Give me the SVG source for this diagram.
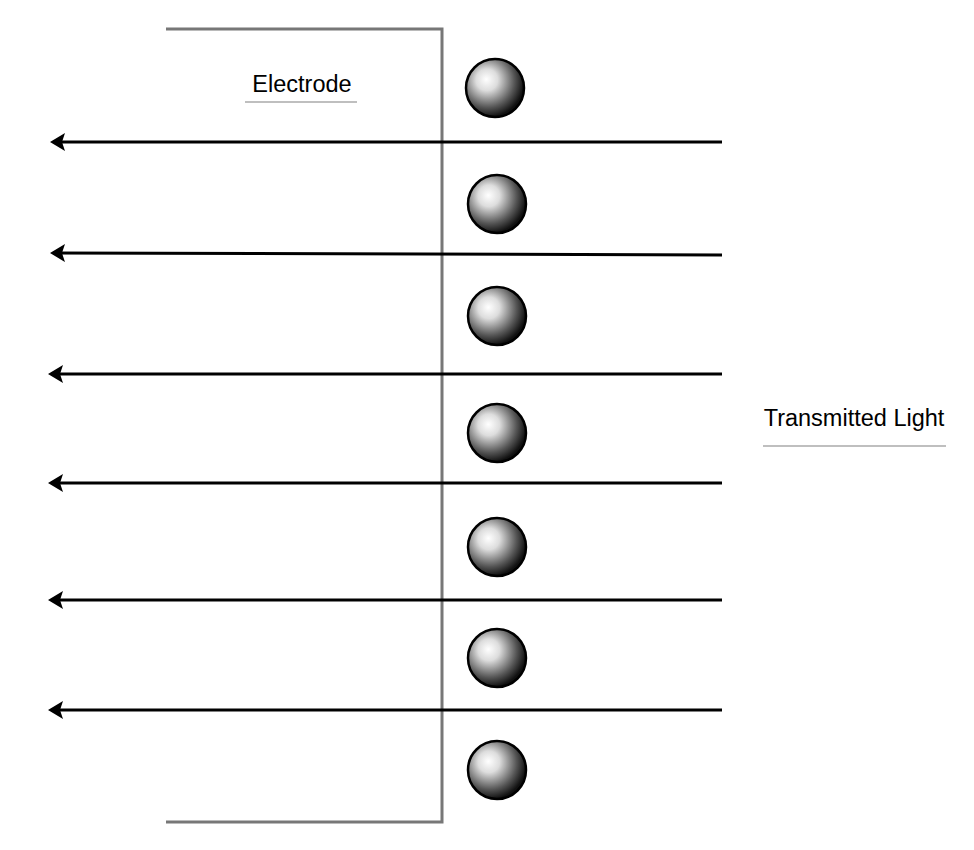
<svg xmlns="http://www.w3.org/2000/svg" width="974" height="850" viewBox="0 0 974 850">
<style>
.lbl{font-family:"Liberation Sans",Arial,sans-serif;font-size:23.5px;fill:#000}
.ul{stroke:#aaa;stroke-width:1.5}
.ray{stroke:#000;stroke-width:3;fill:none;marker-end:url(#ah)}
.sph{fill:url(#sg);stroke:#000;stroke-width:2.5}
</style>
<defs>
<radialGradient id="sg" cx="0.38" cy="0.38" r="0.62" fx="0.35" fy="0.35">
<stop offset="0" stop-color="#fff"/><stop offset="0.3" stop-color="#ddd"/><stop offset="0.75" stop-color="#555"/><stop offset="1" stop-color="#111"/>
</radialGradient>
<marker id="ah" markerWidth="6" markerHeight="6" refX="4" refY="3" orient="auto" markerUnits="strokeWidth"><path d="M5,3 L0,0 L1,3 L0,6 Z" fill="#000"/></marker>
</defs>
<g id="electrode"><polyline points="166,29 442,29 442,822 166,822" fill="none" stroke="#777" stroke-width="3"/></g>
<g id="label-electrode"><text class="lbl" x="302" y="92" text-anchor="middle">Electrode</text><line class="ul" x1="245" y1="102" x2="357" y2="102"/></g>
<g id="label-light"><text class="lbl" x="854" y="426" text-anchor="middle">Transmitted Light</text><line class="ul" x1="763" y1="446" x2="946" y2="446"/></g>
<g id="spheres">
<circle class="sph" cx="495" cy="88" r="29"/>
<circle class="sph" cx="497" cy="204" r="29"/>
<circle class="sph" cx="497" cy="316" r="29"/>
<circle class="sph" cx="497" cy="433" r="29"/>
<circle class="sph" cx="497" cy="547" r="29"/>
<circle class="sph" cx="497" cy="658" r="29"/>
<circle class="sph" cx="497" cy="770" r="29"/>
</g>
<g id="connectors">
<line class="ray" x1="722" y1="142" x2="53" y2="142"/>
<line class="ray" x1="722" y1="255" x2="53" y2="253"/>
<line class="ray" x1="722" y1="374" x2="51" y2="374"/>
<line class="ray" x1="722" y1="483" x2="51" y2="483"/>
<line class="ray" x1="722" y1="600" x2="51" y2="600"/>
<line class="ray" x1="722" y1="710" x2="51" y2="710"/>
</g>
</svg>
